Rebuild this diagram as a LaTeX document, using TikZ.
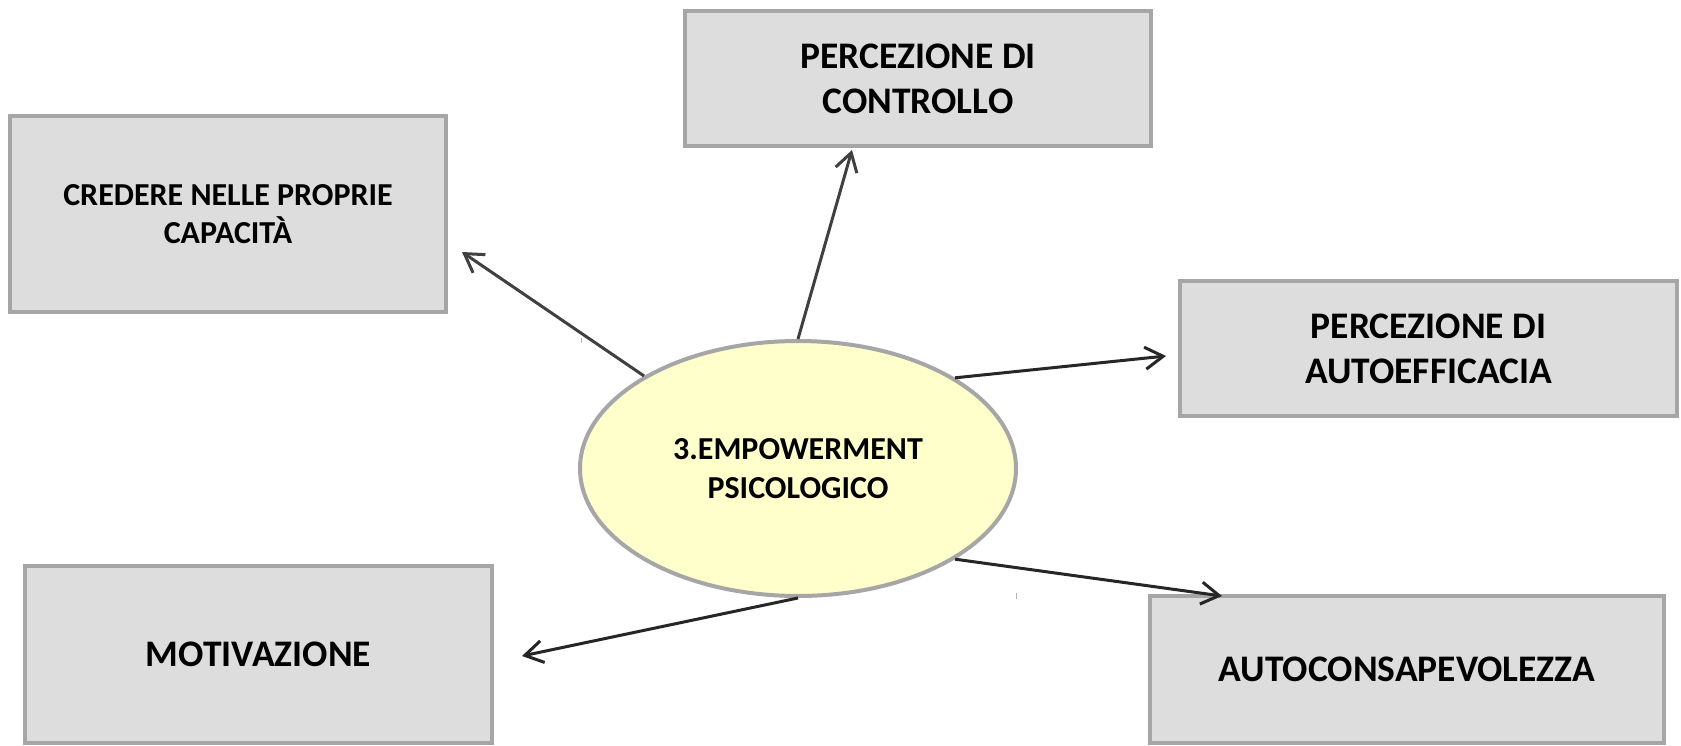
\documentclass[tikz,border=0pt]{standalone}
\usepackage{fontspec}
\setmainfont{Carlito}
\usetikzlibrary{shapes.geometric,arrows.meta}
\definecolor{boxfill}{HTML}{DDDDDD}
\definecolor{boxline}{HTML}{A6A6A6}
\definecolor{ellfill}{HTML}{FFFFCC}
\definecolor{arrA}{HTML}{404040}
\definecolor{arrB}{HTML}{262626}
\begin{document}
\begin{tikzpicture}[x=1pt,y=-1pt,
  box/.style={draw=boxline, fill=boxfill, line width=4pt, inner sep=0pt, align=center, font=\bfseries},
  bigtext/.style={font=\fontsize{37.5}{45}\selectfont\bfseries},
  smalltext/.style={font=\fontsize{32}{37.5}\selectfont\bfseries},
  centertext/.style={font=\fontsize{32}{38.5}\selectfont\bfseries},
  conn/.style={line width=3pt, -{Straight Barb[length=18pt,width=22pt,line width=3pt]}},
  ]
\useasboundingbox (0,0) rectangle (1681,746);
\fill[white] (0,0) rectangle (1681,746);

\node[box, smalltext, minimum width=436pt, minimum height=196pt] (cred) at (228,214) {CREDERE NELLE PROPRIE\\CAPACITÀ};
\node[box, bigtext, minimum width=466pt, minimum height=135pt] (contr) at (918,78.5) {PERCEZIONE DI\\CONTROLLO};
\node[box, bigtext, minimum width=497pt, minimum height=135pt] (autoeff) at (1428.5,348.5) {PERCEZIONE DI\\AUTOEFFICACIA};
\node[box, bigtext, minimum width=467pt, minimum height=177pt] (motiv) at (258.5,654.5) {MOTIVAZIONE};
\node[box, bigtext, minimum width=514pt, minimum height=147pt] (autocons) at (1407,669.5) {AUTOCONSAPEVOLEZZA};

\node[ellipse, draw=boxline, fill=ellfill, line width=4pt, inner sep=0pt, minimum width=436pt, minimum height=255pt, align=center, centertext] (emp) at (798,468.5) {3.EMPOWERMENT\\PSICOLOGICO};

\coordinate (tcred) at (462,252);
\coordinate (tcontr) at (852,150);
\coordinate (tautoeff) at (1166,356);
\coordinate (tautocons) at (1222,596);
\coordinate (tmotiv) at (522,656);

\draw[conn, color=arrA] (emp.149.4) -- (tcred);
\draw[conn, color=arrA] (emp.90) -- (tcontr);
\draw[conn, color=arrB] (emp.30.7) -- (tautoeff);
\draw[conn, color=arrB] (emp.-30.4) -- (tautocons);
\draw[conn, color=arrB] (emp.270) -- (tmotiv);

\draw[gray!60, line width=1pt] (581,338) -- (581,343);
\draw[gray!60, line width=1pt] (1016,593) -- (1016,599);
\end{tikzpicture}
\end{document}
